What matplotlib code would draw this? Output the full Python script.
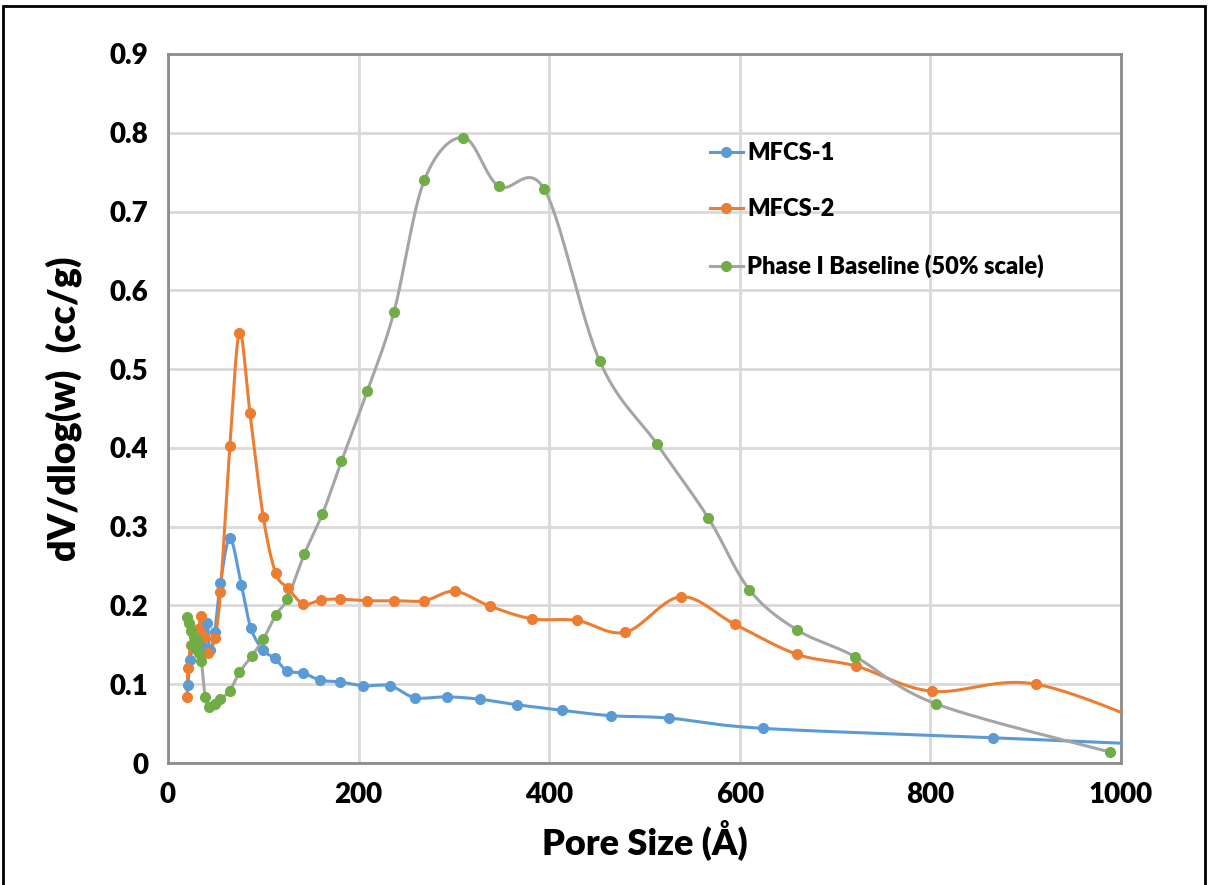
import numpy as np
import matplotlib
matplotlib.use('Agg')
import matplotlib.pyplot as plt
from matplotlib.patches import Rectangle

plt.rcParams['font.family'] = ['Lato', 'DejaVu Sans']
plt.rcParams['font.weight'] = 'heavy'

# MFCS-1
mfcs1_x = [21, 23, 27, 31, 36, 41, 44, 49, 55, 65, 77, 87, 100, 112, 125, 142, 160, 180,
           205, 233, 259, 293, 327, 366, 413, 465, 526, 624, 866, 1100]
mfcs1_y = [0.099, 0.131, 0.150, 0.160, 0.150, 0.178, 0.143, 0.166, 0.228, 0.285, 0.226, 0.171,
           0.143, 0.133, 0.117, 0.114, 0.105, 0.103, 0.098, 0.098, 0.083, 0.084, 0.081, 0.074,
           0.067, 0.060, 0.057, 0.044, 0.032, 0.020]

# MFCS-2
mfcs2_x = [20, 21, 24, 28, 32, 35, 38, 42, 49, 55, 65, 75, 86, 100, 113, 126, 142, 161, 181,
           209, 237, 269, 301, 338, 382, 429, 480, 538, 595, 660, 722, 802, 911, 1060]
mfcs2_y = [0.084, 0.120, 0.150, 0.160, 0.170, 0.187, 0.160, 0.139, 0.159, 0.217, 0.403, 0.546,
           0.444, 0.312, 0.241, 0.222, 0.202, 0.207, 0.208, 0.206, 0.206, 0.206, 0.218, 0.199,
           0.183, 0.181, 0.166, 0.211, 0.176, 0.138, 0.123, 0.091, 0.100, 0.035]

# Phase I Baseline (50% scale)
base_x = [20, 22, 24, 25, 27, 29, 31, 33, 35, 39, 43, 49, 55, 65, 75, 88, 100, 113, 125, 143,
          162, 182, 209, 237, 269, 310, 347, 395, 453, 513, 567, 610, 660, 721, 806, 988]
base_y = [0.185, 0.178, 0.168, 0.150, 0.160, 0.145, 0.155, 0.140, 0.130, 0.084, 0.071, 0.075,
          0.081, 0.092, 0.115, 0.136, 0.157, 0.188, 0.208, 0.265, 0.316, 0.383, 0.472, 0.572,
          0.740, 0.794, 0.732, 0.728, 0.510, 0.405, 0.311, 0.220, 0.169, 0.135, 0.075, 0.014]


def smooth(xs, ys, n=30):
    # Catmull-Rom spline through the points, like Excel's smoothed line
    p = np.column_stack([xs, ys]).astype(float)
    p = np.vstack([p[0], p, p[-1]])
    out = []
    t = np.linspace(0, 1, n, endpoint=False)[:, None]
    for i in range(1, len(p) - 2):
        p0, p1, p2, p3 = p[i - 1], p[i], p[i + 1], p[i + 2]
        seg = 0.5 * ((2 * p1) + (-p0 + p2) * t + (2 * p0 - 5 * p1 + 4 * p2 - p3) * t ** 2
                     + (-p0 + 3 * p1 - 3 * p2 + p3) * t ** 3)
        out.append(seg)
    out.append(p[-2][None, :])
    out = np.vstack(out)
    return out[:, 0], out[:, 1]


fig = plt.figure(figsize=(12.09, 8.85), dpi=100)
ax = fig.add_axes([168 / 1209, 1 - 763 / 885, (1121 - 168) / 1209, (763 - 54) / 885])

series = [
    (mfcs1_x, mfcs1_y, '#5B9BD5', '#5B9BD5', 'MFCS-1'),
    (mfcs2_x, mfcs2_y, '#ED7D31', '#ED7D31', 'MFCS-2'),
    (base_x, base_y, '#A5A5A5', '#70AD47', 'Phase I Baseline (50% scale)'),
]
for xs, ys, lc, mc, label in series:
    sx, sy = smooth(xs, ys)
    ax.plot(sx, sy, color=lc, linewidth=2.2, zorder=3)
    ax.plot(xs, ys, linestyle='none', marker='o', markersize=7, color=mc, zorder=4)
    ax.plot([], [], color=lc, linewidth=2.2, marker='o', markersize=7,
            markerfacecolor=mc, markeredgecolor=mc, label=label)

ax.set_xlim(0, 1000)
ax.set_ylim(0, 0.9)
ax.set_xticks(np.arange(0, 1001, 200))
ax.set_yticks(np.arange(0, 0.91, 0.1))
ax.set_yticklabels(['0'] + ['%.1f' % v for v in np.arange(0.1, 0.91, 0.1)])
ax.grid(True, color='#d9d9d9', linewidth=2)
ax.set_axisbelow(True)
for s in ax.spines.values():
    s.set_color('#8c8c8c')
    s.set_linewidth(2)
ax.tick_params(length=0, labelsize=20, pad=14)
for lab in ax.get_xticklabels() + ax.get_yticklabels():
    lab.set_fontweight('heavy')

ax.set_xlabel('Pore Size (Å)', fontsize=26, fontweight='heavy', labelpad=8)
ax.set_ylabel('dV/dlog(w)  (cc/g)', fontsize=27, fontweight='heavy', labelpad=20)

leg = ax.legend(loc='upper left', bbox_to_anchor=(0.546, 0.906), frameon=False,
                fontsize=17, handlelength=1.4, labelspacing=1.45, handletextpad=0.2)
for t in leg.get_texts():
    t.set_fontweight('heavy')

fig.patches.append(Rectangle((3 / 1209, -0.01), 1202 / 1209, 1 - 6 / 885 + 0.01,
                             transform=fig.transFigure, fill=False,
                             edgecolor='black', linewidth=2))

fig.savefig('out.png', dpi=100)
